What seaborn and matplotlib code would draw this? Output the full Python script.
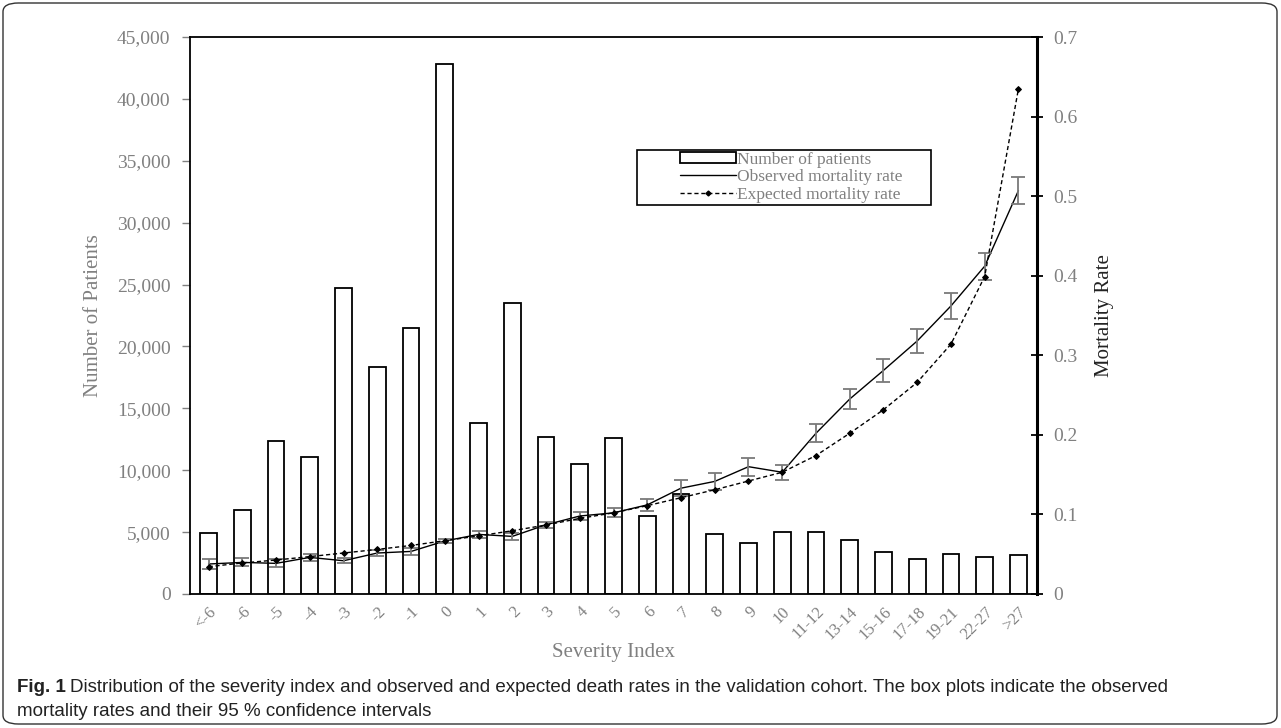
import numpy as np
import pandas as pd
import matplotlib
matplotlib.use("Agg")
import matplotlib.pyplot as plt
import seaborn as sns
from matplotlib.patches import FancyBboxPatch, Rectangle
from matplotlib.lines import Line2D

categories = ["<-6", "-6", "-5", "-4", "-3", "-2", "-1", "0", "1", "2", "3", "4", "5",
              "6", "7", "8", "9", "10", "11-12", "13-14", "15-16", "17-18", "19-21",
              "22-27", ">27"]
patients = [4900, 6800, 12400, 11050, 24700, 18350, 21500, 42800, 13800, 23500, 12700,
            10500, 12600, 6270, 8080, 4850, 4090, 4980, 4980, 4330, 3420, 2850, 3260,
            2990, 3150]
observed = [0.0377, 0.0397, 0.0385, 0.046, 0.0418, 0.0515, 0.0535, 0.0666, 0.0749,
            0.0724, 0.087, 0.098, 0.102, 0.112, 0.133, 0.1415, 0.160, 0.153, 0.202,
            0.245, 0.281, 0.318, 0.362, 0.412, 0.507]
observed_ci = [0.006, 0.005, 0.005, 0.004, 0.003, 0.004, 0.004, 0.002, 0.004, 0.004,
               0.004, 0.005, 0.0057, 0.0077, 0.010, 0.011, 0.0115, 0.0094, 0.0115,
               0.013, 0.014, 0.015, 0.016, 0.017, 0.017]
expected = [0.0343, 0.039, 0.0427, 0.047, 0.0515, 0.056, 0.061, 0.067, 0.073, 0.0795,
            0.0867, 0.095, 0.102, 0.111, 0.121, 0.131, 0.142, 0.153, 0.174, 0.202,
            0.2316, 0.266, 0.314, 0.399, 0.635]

df = pd.DataFrame({"cat": categories, "patients": patients,
                   "observed": observed, "ci": observed_ci, "expected": expected})
df["pos"] = np.arange(len(df))

sns.set_theme(style="white")
plt.rcParams["font.family"] = ["Liberation Serif", "DejaVu Serif"]
gray = "#808080"

fig = plt.figure(figsize=(12.81, 7.28), dpi=100)
ax = fig.add_axes([190/1281, 1 - 594/728, 847/1281, 557/728])

sns.barplot(data=df, x="cat", y="patients", ax=ax, color="white", edgecolor="black",
            linewidth=1.3, width=0.5, saturation=1)
ax.set_ylim(0, 45000)
ax.set_xlim(-0.55, len(df) - 0.45)
ax.set_yticks(np.arange(0, 45001, 5000))
ax.set_yticklabels([f"{v:,}" for v in range(0, 45001, 5000)], color=gray, fontsize=14)
ax.set_xticks(df["pos"])
ax.set_xticklabels(categories, rotation=45, ha="right", rotation_mode="anchor",
                   color=gray, fontsize=12)
ax.tick_params(axis="x", length=0, pad=7)
ax.tick_params(axis="y", length=6, width=1, color=gray, direction="out", pad=8, left=True)
ax.set_xlabel("Severity Index", color=gray, fontsize=15, labelpad=0)
ax.set_ylabel("Number of Patients", color=gray, fontsize=15, labelpad=10)
for s in ax.spines.values():
    s.set_color("black")
    s.set_linewidth(1.3)

ax2 = ax.twinx()
sns.lineplot(data=df, x="pos", y="observed", ax=ax2, color="black", linewidth=1.0)
ax2.errorbar(df["pos"], df["observed"], yerr=df["ci"], fmt="none", ecolor="#7a7a7a",
             elinewidth=1.3, capsize=5, capthick=1.3)
sns.lineplot(data=df, x="pos", y="expected", ax=ax2, color="black", linewidth=1.0,
             linestyle=(0, (3, 2)), marker="D", markersize=3, markeredgecolor="black")
ax2.set_ylim(0, 0.7)
ax2.set_yticks(np.arange(0, 0.71, 0.1))
ax2.set_yticklabels(["0"] + [f"{v:.1f}" for v in np.arange(0.1, 0.71, 0.1)],
                    color=gray, fontsize=14)
ax2.tick_params(axis="y", length=8, width=1.3, color="black", direction="inout", pad=8, right=True)
ax2.set_ylabel("Mortality Rate", color="#222222", fontsize=15, labelpad=12)
ax2.set_xlabel("")
ax2.spines["right"].set_linewidth(2.2)
ax2.spines["right"].set_color("black")
for k in ["left", "top", "bottom"]:
    ax2.spines[k].set_visible(False)
ax2.set_xlim(ax.get_xlim())

# legend box drawn separately, entries placed inside
ax2.add_patch(Rectangle((0.5277, 0.698), 0.3472, 0.099, transform=ax2.transAxes,
                        facecolor="white", edgecolor="black", linewidth=1.2, zorder=5))
handles = [Rectangle((0, 0), 1, 1, facecolor="white", edgecolor="black", linewidth=1.3),
           Line2D([], [], color="black", linewidth=1.0),
           Line2D([], [], color="black", linewidth=1.0, linestyle=(0, (3, 2)),
                  marker="D", markersize=2.5)]
leg = ax2.legend(handles, ["Number of patients", "Observed mortality rate",
                           "Expected mortality rate"],
                 loc="upper left", bbox_to_anchor=(0.5785, 0.794), fontsize=12.5,
                 frameon=False, handlelength=3.2, handleheight=0.6,
                 labelspacing=0.08, borderpad=0, borderaxespad=0, handletextpad=0.1)
leg.set_zorder(6)
for t in leg.get_texts():
    t.set_color(gray)

# figure border and caption
border = FancyBboxPatch((3/1281, 4/728), 1274/1281, 721/728,
                        boxstyle="round,pad=0,rounding_size=0.012",
                        transform=fig.transFigure, facecolor="none",
                        edgecolor="#333333", linewidth=1.0)
fig.patches.append(border)
cap_family = ["Liberation Sans", "DejaVu Sans"]
fig.text(17/1281, 1 - 688/728, "Fig. 1", fontsize=13.5, fontweight="bold",
         family=cap_family, va="center", color="#222222")
fig.text(70/1281, 1 - 688/728,
         "Distribution of the severity index and observed and expected death rates in the validation cohort. The box plots indicate the observed",
         fontsize=13.5, family=cap_family, va="center", color="#222222")
fig.text(17/1281, 1 - 712/728, "mortality rates and their 95 % confidence intervals",
         fontsize=13.5, family=cap_family, va="center", color="#222222")

fig.savefig("out.png", dpi=100)
